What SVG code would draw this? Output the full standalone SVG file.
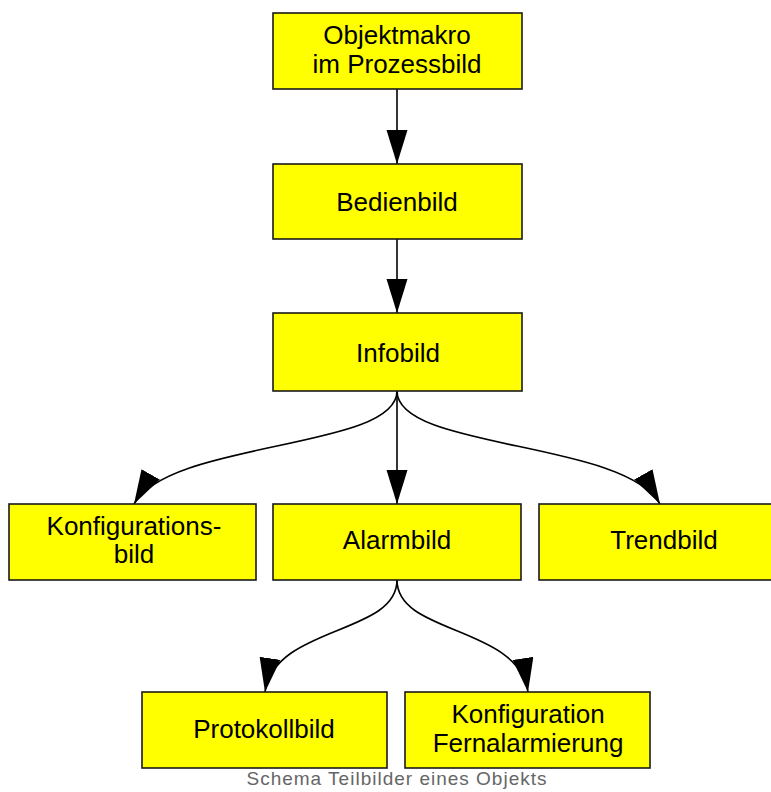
<svg xmlns="http://www.w3.org/2000/svg" width="771" height="792" viewBox="0 0 771 792">
<style>
.box{fill:#ffff00;stroke:#1a1a1a;stroke-width:1.6}
.lbl{font-family:"Liberation Sans",Arial,sans-serif;font-size:26px;fill:#000;text-anchor:middle}
.edge{fill:none;stroke:#000;stroke-width:1.6}
.cap{font-family:"Liberation Sans",Arial,sans-serif;font-size:19px;fill:#666;text-anchor:middle;letter-spacing:1px}
</style>
<defs>
<marker id="ah" markerUnits="userSpaceOnUse" markerWidth="36" markerHeight="22" refX="34" refY="10.5" orient="auto">
<path d="M0,0 L34,10.5 L0,21 z" fill="#000"/>
</marker>
</defs>
<rect width="771" height="792" fill="#fff"/>
<g id="connectors">
<path class="edge" d="M397,89 L397,164" marker-end="url(#ah)"/>
<path class="edge" d="M397,239 L397,313" marker-end="url(#ah)"/>
<path class="edge" d="M397,391 L397,504" marker-end="url(#ah)"/>
<path class="edge" d="M397,391 C397,450 170,440 134,504" marker-end="url(#ah)"/>
<path class="edge" d="M397,391 C397,450 624,440 660,504" marker-end="url(#ah)"/>
<path class="edge" d="M397,580 C397,635 275,625 265,692" marker-end="url(#ah)"/>
<path class="edge" d="M397,580 C397,635 518,625 528,692" marker-end="url(#ah)"/>
</g>
<g id="objektmakro">
<rect class="box" x="273" y="13" width="249" height="76"/>
<text class="lbl" x="397" y="44">Objektmakro</text>
<text class="lbl" x="397" y="73">im Prozessbild</text>
</g>
<g id="bedienbild">
<rect class="box" x="273" y="164" width="249" height="75"/>
<text class="lbl" x="397" y="211">Bedienbild</text>
</g>
<g id="infobild">
<rect class="box" x="273" y="313" width="249" height="78"/>
<text class="lbl" x="398" y="362">Infobild</text>
</g>
<g id="konfigurationsbild">
<rect class="box" x="9" y="504" width="247" height="76"/>
<text class="lbl" x="134" y="535">Konfigurations-</text>
<text class="lbl" x="134" y="563">bild</text>
</g>
<g id="alarmbild">
<rect class="box" x="273" y="504" width="248" height="76"/>
<text class="lbl" x="397" y="549">Alarmbild</text>
</g>
<g id="trendbild">
<rect class="box" x="539" y="504" width="248" height="76"/>
<text class="lbl" x="664" y="549">Trendbild</text>
</g>
<g id="protokollbild">
<rect class="box" x="142" y="692" width="245" height="76"/>
<text class="lbl" x="264" y="738">Protokollbild</text>
</g>
<g id="fernalarmierung">
<rect class="box" x="405" y="692" width="245" height="76"/>
<text class="lbl" x="528" y="723">Konfiguration</text>
<text class="lbl" x="528" y="752">Fernalarmierung</text>
</g>
<text class="cap" x="397" y="785">Schema Teilbilder eines Objekts</text>
</svg>
